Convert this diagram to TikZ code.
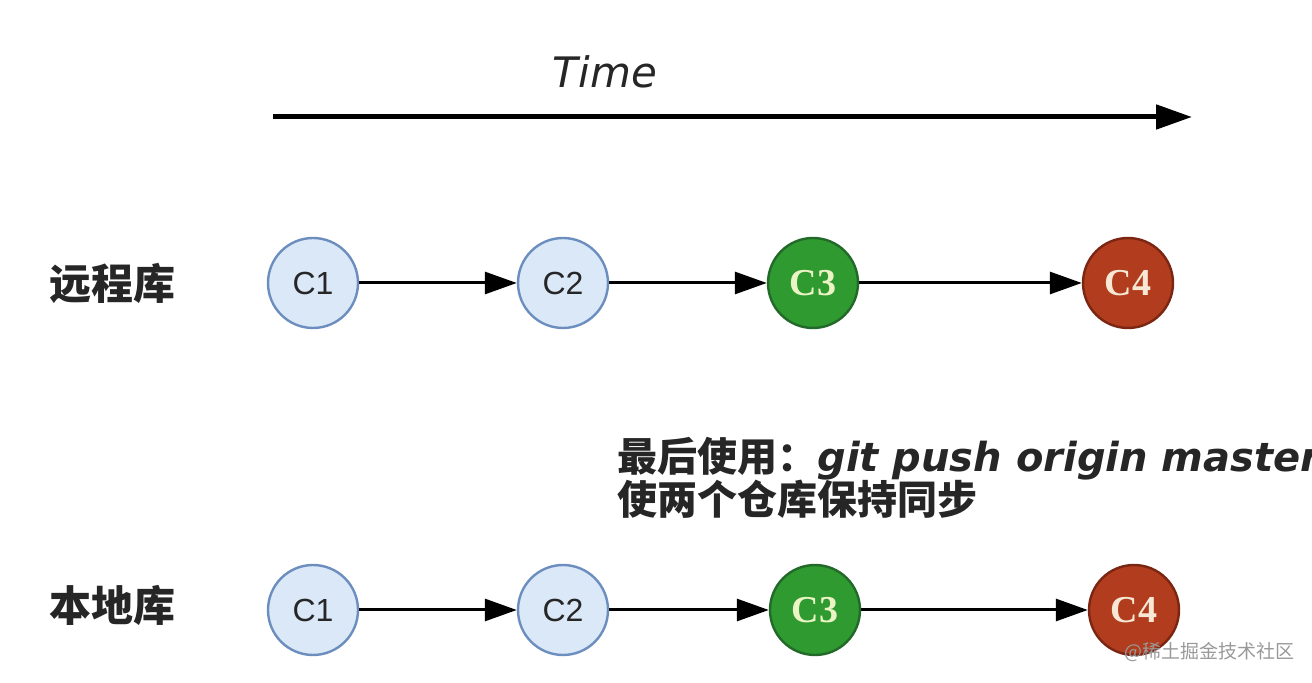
\documentclass[tikz,border=0pt]{standalone}
\usepackage{fontspec}
\setmainfont{Liberation Sans}
\newfontfamily\cjk{Noto Sans CJK SC}
\newfontfamily\gitfont{DejaVu Sans}
\newfontfamily\timefont{DejaVu Sans}
\newfontfamily\serifnum{Liberation Serif}
\usepackage{tikz}
\usetikzlibrary{arrows.meta}
\usepackage{xcolor}
\definecolor{oldfill}{HTML}{DAE8F8}
\definecolor{oldline}{HTML}{6C8EBF}
\definecolor{newfill}{HTML}{2F9A2F}
\definecolor{newline}{HTML}{22692A}
\definecolor{newtext}{HTML}{EAF4C4}
\definecolor{topfill}{HTML}{B23C1E}
\definecolor{topline}{HTML}{7A2612}
\definecolor{toptext}{HTML}{F6E8D4}
\tikzset{
    commit/.style={
        draw,
        circle,
        line width=1.2pt,
        minimum size=45pt,
        inner sep=0pt
    },
    oldcommit/.style={
        commit,
        fill=oldfill,
        draw=oldline,
        text=black!85,
        font=\fontsize{16}{16}\selectfont
    },
    newcommit/.style={
        commit,
        fill=newfill,
        draw=newline,
        text=newtext,
        font=\serifnum\bfseries\fontsize{19}{19}\selectfont
    },
    topcommit/.style={
        commit,
        fill=topfill,
        draw=topline,
        text=toptext,
        font=\serifnum\bfseries\fontsize{19}{19}\selectfont
    },
    link/.style={
        draw,
        line width=1.5pt,
        -{Triangle[length=16pt, width=11pt]}
    },
    repo/.style={
        font=\cjk\bfseries\fontsize{21}{21}\selectfont,
        text=black!85
    }
}

\begin{document}
\begin{tikzpicture}[x=0.5pt, y=-0.5pt]
    \useasboundingbox (0,0) rectangle (1312,683);

    % Time axis
    \node[font=\timefont\itshape\fontsize{21}{21}\selectfont, text=black!85] (time) at (605,72) {Time};
    \coordinate (t0) at (273,117);
    \coordinate (t1) at (1192,117);
    \draw[line width=2.5pt, -{Triangle[length=18pt, width=12pt]}] (t0) -- (t1);

    % Remote repository
    \node[repo] (remote) at (112,283) {远程库};
    \node[oldcommit] (r1) at (313,283) {C1};
    \node[oldcommit] (r2) at (563,283) {C2};
    \node[newcommit] (r3) at (813,283) {C3};
    \node[topcommit] (r4) at (1128,283) {C4};

    % Local repository
    \node[repo] (local) at (112,605) {本地库};
    \node[oldcommit] (l1) at (313,610) {C1};
    \node[oldcommit] (l2) at (563,610) {C2};
    \node[newcommit] (l3) at (815,610) {C3};
    \node[topcommit] (l4) at (1134,610) {C4};

    % Edges
    \draw[link] (r1) -- (r2);
    \draw[link] (r2) -- (r3);
    \draw[link] (r3) -- (r4);
    \draw[link] (l1) -- (l2);
    \draw[link] (l2) -- (l3);
    \draw[link] (l3) -- (l4);

    % Note
    \node[anchor=base west, inner sep=0pt, text=black!85] (push) at (617,472)
        {{\cjk\bfseries\fontsize{20}{20}\selectfont 最后使用：}{\gitfont\bfseries\itshape\fontsize{20}{20}\selectfont git push origin master}};
    \node[anchor=base west, inner sep=0pt, text=black!85] (sync) at (617,515)
        {\cjk\bfseries\fontsize{20}{20}\selectfont 使两个仓库保持同步};

    % Watermark
    \node[anchor=base east, inner sep=0pt, text=black!40, font=\cjk\fontsize{9.5}{9.5}\selectfont] (mark) at (1295,659) {@稀土掘金技术社区};
\end{tikzpicture}
\end{document}
